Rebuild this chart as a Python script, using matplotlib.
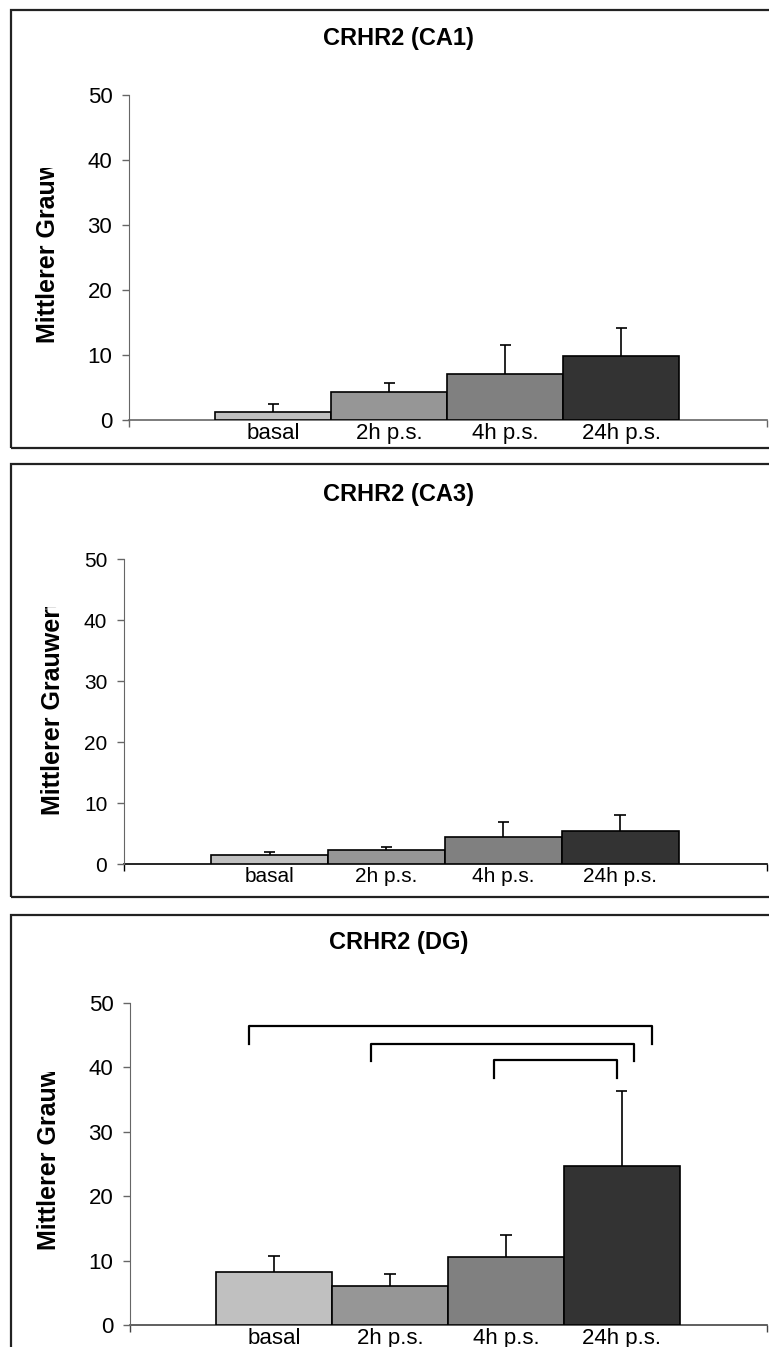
import matplotlib.pyplot as plt
import numpy as np
from matplotlib.patches import Rectangle
from matplotlib.transforms import Bbox, TransformedBbox

plt.rcParams['font.family'] = ['Liberation Sans', 'DejaVu Sans']

CATEGORIES = ['basal', '2h p.s.', '4h p.s.', '24h p.s.']
COLORS = ['#c0c0c0', '#969696', '#808080', '#333333']

# mean grey values and (upper) error per region
CA1_MEAN = [1.2, 4.3, 7.1, 9.8]
CA1_ERR = [1.3, 1.4, 4.5, 4.4]
CA3_MEAN = [1.5, 2.3, 4.4, 5.4]
CA3_ERR = [0.5, 0.5, 2.5, 2.6]
DG_MEAN = [8.3, 6.0, 10.6, 24.7]
DG_ERR = [2.4, 1.9, 3.4, 11.6]

# significance brackets in DG: category pairs and bracket heights
DG_PAIRS = [(0, 3), (1, 3), (2, 3)]
DG_LEVELS = [46.4, 43.7, 41.1]
BRACKET_LEFT_OFF = [-0.22, -0.16, -0.10]
BRACKET_RIGHT_OFF = [0.26, 0.11, -0.04]
BRACKET_DROP = 2.7

YLABEL = 'Mittlerer Grauwert'

W, H = 769, 1347
fig = plt.figure(figsize=(W / 100, H / 100), dpi=100)


def fy(py):
    # pixel row from top -> figure fraction
    return 1 - py / H


panels = [
    dict(title='CRHR2 (CA1)', mean=CA1_MEAN, err=CA1_ERR, left=129, top=95, bottom=420,
         title_y=38, box=(10, 448), ylab_x=48, ylab_y=343, ylab_clip=168,
         axcolor='#666666', xcolor='#666666', tick_fs=16, cat_fs=16),
    dict(title='CRHR2 (CA3)', mean=CA3_MEAN, err=CA3_ERR, left=124, top=559, bottom=864,
         title_y=495, box=(464, 897), ylab_x=53, ylab_y=815, ylab_clip=607,
         axcolor='#666666', xcolor='#000000', tick_fs=15, cat_fs=15),
    dict(title='CRHR2 (DG)', mean=DG_MEAN, err=DG_ERR, left=130, top=1003, bottom=1325,
         title_y=943, box=(915, 1400), ylab_x=49, ylab_y=1250, ylab_clip=1072,
         axcolor='#666666', xcolor='#444444', tick_fs=16, cat_fs=16),
]

x = np.arange(len(CATEGORIES))

for k, p in enumerate(panels):
    # outer frame (right side runs off the picture)
    y0, y1 = p['box']
    fig.patches.append(Rectangle((11 / W, fy(y1)), 1.2, (y1 - y0) / H,
                                 transform=fig.transFigure, fill=False,
                                 edgecolor='#222222', linewidth=1.6, zorder=0))

    ax = fig.add_axes([p['left'] / W, fy(p['bottom']), (767 - p['left']) / W,
                       (p['bottom'] - p['top']) / H])
    ax.patch.set_alpha(0)
    mean = np.array(p['mean'])
    err = np.array(p['err'])

    ax.bar(x, mean, width=1.0, color=COLORS, edgecolor='black', linewidth=1.2, zorder=2)
    ax.vlines(x, mean, mean + err, color='black', linewidth=1.2, zorder=3)
    ax.hlines(mean + err, x - 0.05, x + 0.05, color='black', linewidth=1.2, zorder=3)

    ax.set_xlim(-1.245, 4.255)
    ax.set_ylim(0, 50)
    ax.set_yticks(np.arange(0, 51, 10))
    ax.set_xticks(x)
    ax.set_xticklabels(CATEGORIES, fontsize=p['cat_fs'])
    ax.set_xticks([-1.245, 4.255], minor=True)
    ax.tick_params(axis='x', which='major', length=0, pad=2)
    ax.tick_params(axis='x', which='minor', length=5, width=1, colors=p['xcolor'],
                   direction='out')
    ax.tick_params(axis='y', length=5, width=1, color=p['axcolor'], pad=7,
                   labelsize=p['tick_fs'])
    for s in ['top', 'right']:
        ax.spines[s].set_visible(False)
    ax.spines['left'].set_color(p['axcolor'])
    ax.spines['bottom'].set_color(p['xcolor'])
    ax.spines['bottom'].set_linewidth(1.2)
    ax.spines['bottom'].set_zorder(1)

    fig.text(0.518, fy(p['title_y']), p['title'], ha='center', va='center',
             fontsize=17, fontweight='bold')

    clip = TransformedBbox(Bbox.from_extents(0, 0, 1, fy(p['ylab_clip'])), fig.transFigure)
    t = fig.text(p['ylab_x'] / W, fy(p['ylab_y']), YLABEL, rotation=90,
                 ha='center', va='bottom', fontsize=18, fontweight='bold')
    t.set_clip_box(clip)
    t.set_clip_on(True)

    if k == 2:
        for (i, j), lev, lo, ro in zip(DG_PAIRS, DG_LEVELS, BRACKET_LEFT_OFF, BRACKET_RIGHT_OFF):
            xl, xr = i + lo, j + ro
            ax.plot([xl, xl, xr, xr], [lev - BRACKET_DROP, lev, lev, lev - BRACKET_DROP],
                    color='black', linewidth=1.6, clip_on=False)

fig.savefig('out.png', dpi=100)
